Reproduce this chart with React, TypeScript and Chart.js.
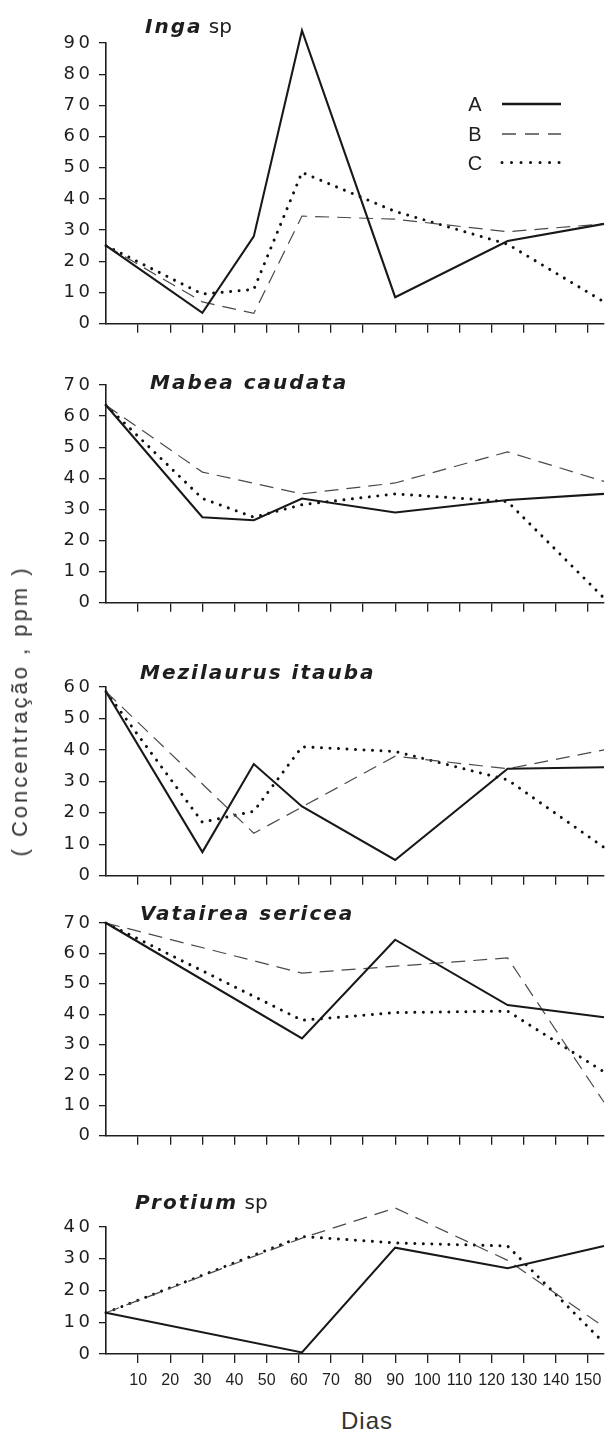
import React, { useEffect, useRef } from 'react';
import { Chart, registerables } from 'chart.js';

Chart.register(...registerables);

// ---------- data ----------
const days = [0, 30, 46, 61, 90, 125, 155];
const dayTicks = [10, 20, 30, 40, 50, 60, 70, 80, 90, 100, 110, 120, 130, 140, 150];
const seriesNames = ['A', 'B', 'C'];

const ingaA = [25, 3.5, 28, 94, 8.5, 26.5, 32];
const ingaB = [25, 7, 3.3, 34.5, 33.5, 29.5, 32];
const ingaC = [25, 9.5, 11, 48.5, 36, 25.5, 7];

const mabeaA = [63.5, 27.5, 26.5, 33.5, 29, 33, 35];
const mabeaB = [63.5, 42, null, 35, 38.5, 48.5, 39];
const mabeaC = [63.5, 33.5, 27.5, 31.5, 35, 32.5, 1.5];

const mezA = [58.5, 7.5, 35.5, 22, 5, 34, 34.5];
const mezB = [58.5, null, 13.5, null, 38, 34, 40];
const mezC = [58.5, 17, 20.5, 41, 39.5, 30.5, 9];

const vatA = [70, null, null, 32, 64.5, 43, 39];
const vatB = [70, null, null, 53.5, null, 58.5, 11];
const vatC = [70, null, null, 38, 40.5, 41, 21];

const proA = [13, null, null, 0.5, 33.5, 27, 34];
const proB = [13, null, null, 36.5, 46, 29.5, 8.5];
const proC = [13, null, null, 37, 35, 34, 3.5];

const yMaxes = [90, 70, 60, 70, 40];
const titleBold = ['Inga', 'Mabea caudata', 'Mezilaurus itauba', 'Vatairea sericea', 'Protium'];
const titleRegular = [' sp', '', '', '', ' sp'];
const yTitle = '( Concentração , ppm )';
const xTitle = 'Dias';

// ---------- layout (positions / styles) ----------
const PAD_TOP = 24;
const panels = [
  { series: [ingaA, ingaB, ingaC], top: 43, bottom: 326, xh: 14, labels: false, tx: 145, ty: 26 },
  { series: [mabeaA, mabeaB, mabeaC], top: 385, bottom: 605, xh: 14, labels: false, tx: 150, ty: 381.7 },
  { series: [mezA, mezB, mezC], top: 687, bottom: 878, xh: 14, labels: false, tx: 140, ty: 671.7 },
  { series: [vatA, vatB, vatC], top: 923, bottom: 1138, xh: 14, labels: false, tx: 140, ty: 913.3 },
  { series: [proA, proB, proC], top: 1227, bottom: 1354, xh: 40, labels: true, tx: 135, ty: 1201.7 },
];

const INK = '#1e1e1e';
const lineStyles = [
  { borderColor: '#181818', borderWidth: 2.1, borderDash: [] as number[], borderCapStyle: 'butt' },
  { borderColor: '#4a4a4a', borderWidth: 1.2, borderDash: [14, 8], borderCapStyle: 'butt' },
  { borderColor: '#111111', borderWidth: 3, borderDash: [0.01, 8.5], borderCapStyle: 'round' },
];

const spacingPlugin = {
  id: 'tickSpacing',
  beforeDraw(chart: any) {
    chart.ctx.letterSpacing = '3.5px';
  },
  afterDatasetsDraw(chart: any) {
    chart.ctx.letterSpacing = '0px';
  },
  afterDraw(chart: any) {
    chart.ctx.letterSpacing = '0px';
  },
};

function Panel({ idx }: { idx: number }) {
  const ref = useRef<HTMLCanvasElement>(null);
  const p = panels[idx];
  const h = p.bottom - p.top + PAD_TOP + p.xh;
  useEffect(() => {
    const canvas = ref.current!;
    const chart = new Chart(canvas, {
      type: 'line',
      data: {
        datasets: p.series.map((vals, si) => ({
          label: seriesNames[si],
          data: days.map((d, i) => ({ x: d, y: vals[i] })),
          ...lineStyles[si],
          pointRadius: 0,
          pointHoverRadius: 0,
          tension: 0,
          spanGaps: true,
          clip: false,
          fill: false,
        })) as any,
      },
      options: {
        responsive: false,
        animation: false,
        events: [],
        layout: { padding: { top: PAD_TOP, right: 6, left: 0, bottom: 0 } },
        plugins: {
          legend: { display: false },
          title: { display: false },
          tooltip: { enabled: false },
        },
        scales: {
          x: {
            type: 'linear',
            min: 0,
            max: 155,
            afterBuildTicks: (s: any) => {
              s.ticks = dayTicks.map((v) => ({ value: v }));
            },
            afterFit: (s: any) => {
              s.height = p.xh;
            },
            ticks: {
              display: p.labels,
              z: 1,
              autoSkip: false,
              maxRotation: 0,
              color: INK,
              padding: 8,
              font: { family: 'Liberation Sans', size: 16 },
              callback: (v: any) => String(v),
            },
            grid: { drawOnChartArea: false, drawTicks: true, tickLength: 9, color: INK, lineWidth: 1.3 },
            border: { display: true, color: INK, width: 1.6 },
          },
          y: {
            type: 'linear',
            min: 0,
            max: yMaxes[idx],
            afterFit: (s: any) => {
              s.width = 106;
            },
            ticks: {
              stepSize: 10,
              color: INK,
              padding: 5.5,
              font: { family: 'DejaVu Sans', size: 18 },
            },
            grid: { drawOnChartArea: false, drawTicks: true, tickLength: 7, color: INK, lineWidth: 1.3 },
            border: { display: true, color: INK, width: 1.6 },
          },
        },
      } as any,
      plugins: [spacingPlugin as any],
    });
    return () => chart.destroy();
  }, []);
  return (
    <canvas
      ref={ref}
      width={610}
      height={h}
      style={{ position: 'absolute', left: 0, top: p.top - PAD_TOP, width: 610, height: h }}
    />
  );
}

function Legend() {
  const rows = [104, 134, 162.5];
  return (
    <svg
      width={610}
      height={200}
      style={{ position: 'absolute', left: 0, top: 0, pointerEvents: 'none', zIndex: 2 }}
    >
      {seriesNames.map((n, i) => (
        <g key={n}>
          <text
            x={475}
            y={rows[i] + 7}
            textAnchor="middle"
            fontFamily="Liberation Sans"
            fontSize={20}
            fill={INK}
          >
            {n}
          </text>
          <line
            x1={502}
            x2={561}
            y1={rows[i]}
            y2={rows[i]}
            stroke={lineStyles[i].borderColor}
            strokeWidth={i === 0 ? 2.3 : i === 1 ? 1.3 : 3}
            strokeDasharray={i === 0 ? undefined : i === 1 ? '14 9' : '0.01 9.5'}
            strokeLinecap={i === 2 ? 'round' : 'butt'}
          />
        </g>
      ))}
    </svg>
  );
}

export default function App() {
  return (
    <div
      style={{
        position: 'absolute',
        left: 0,
        top: 0,
        width: 610,
        height: 1436,
        overflow: 'hidden',
        background: '#fff',
      }}
    >
      {panels.map((_, i) => (
        <Panel key={i} idx={i} />
      ))}
      {panels.map((p, i) => (
        <div
          key={'t' + i}
          style={{
            position: 'absolute',
            left: p.tx,
            top: p.ty - 10,
            fontSize: 20,
            lineHeight: '20px',
            whiteSpace: 'nowrap',
            color: INK,
            zIndex: 2,
            fontFamily: 'DejaVu Sans',
          }}
        >
          <span style={{ fontWeight: 'bold', fontStyle: 'italic', letterSpacing: '2px' }}>{titleBold[i]}</span>
          <span>{titleRegular[i]}</span>
        </div>
      ))}
      <div
        style={{
          position: 'absolute',
          left: 20,
          top: 711,
          transform: 'translate(-50%, -50%) rotate(-90deg)',
          whiteSpace: 'nowrap',
          fontFamily: 'Liberation Sans',
          fontSize: 22,
          lineHeight: '22px',
          letterSpacing: '3px',
          color: '#333',
          zIndex: 2,
        }}
      >
        {yTitle}
      </div>
      <div
        style={{
          position: 'absolute',
          left: 367,
          top: 1409,
          transform: 'translateX(-50%)',
          whiteSpace: 'nowrap',
          fontFamily: 'Liberation Sans',
          fontSize: 24,
          lineHeight: '24px',
          letterSpacing: '1px',
          color: '#333',
          zIndex: 2,
        }}
      >
        {xTitle}
      </div>
      <Legend />
    </div>
  );
}
